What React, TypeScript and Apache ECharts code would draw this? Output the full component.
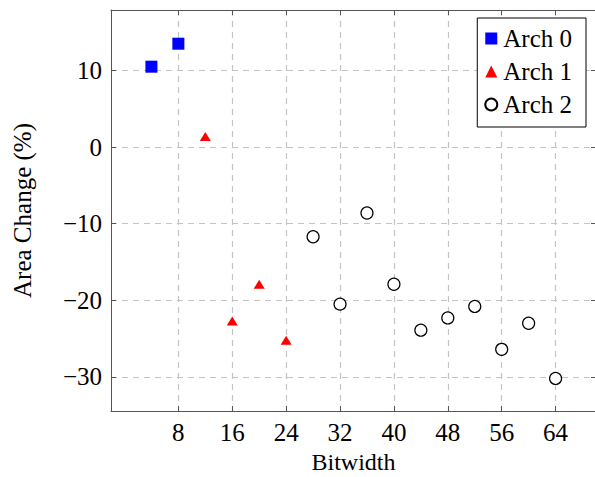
import React, { useEffect, useRef } from "react";
import * as echarts from "echarts";

const arch0X = [4, 8];
const arch0Y = [10.5, 13.5];
const arch1X = [12, 16, 20, 24];
const arch1Y = [1.4, -22.7, -17.9, -25.2];
const arch2X = [28, 32, 36, 40, 44, 48, 52, 56, 60, 64];
const arch2Y = [-11.7, -20.5, -8.6, -17.9, -23.9, -22.3, -20.8, -26.4, -23.0, -30.2];
const xTicks = [8, 16, 24, 32, 40, 48, 56, 64];
const yTicks = [-30, -20, -10, 0, 10];
const seriesNames = ["Arch 0", "Arch 1", "Arch 2"];

const FONT = "Liberation Serif";
const FS = 25;

export default function App() {
  const ref = useRef<HTMLDivElement>(null);
  useEffect(() => {
    if (!ref.current) return;
    const chart = echarts.init(ref.current, null, { renderer: "svg" });
    const zip = (xs: number[], ys: number[]) => xs.map((x, i) => [x, ys[i]]);
    const axisLine = { show: true, onZero: false, lineStyle: { color: "#555", width: 1 } };
    const splitLine = { show: true, lineStyle: { color: "#c4c4c4", type: [6, 5] as any, width: 1.2 } };
    const xBase = {
      type: "value" as const,
      min: -2,
      max: 70,
      axisLine,
      axisTick: { show: true, inside: true, length: 5, customValues: xTicks, lineStyle: { color: "#555" } },
    };
    const yBase = {
      type: "value" as const,
      min: -34.45,
      max: 17.9,
      axisLine,
      axisTick: { show: true, inside: true, length: 5, customValues: yTicks, lineStyle: { color: "#555" } },
    };
    const minus = (v: number) => String(v).replace("-", "\u2212");
    chart.setOption({
      animation: false,
      backgroundColor: "#fff",
      grid: {
        left: 111,
        top: 10,
        width: 485,
        height: 401,
        containLabel: false,
        outerBoundsMode: "none",
      },
      xAxis: [
        {
          ...xBase,
          position: "bottom",
          name: "Bitwidth",
          nameLocation: "middle",
          nameGap: 41,
          nameTextStyle: { fontFamily: FONT, fontSize: 24, lineHeight: 20, color: "#000" },
          axisLabel: { customValues: xTicks, fontFamily: FONT, fontSize: FS, color: "#000", margin: 9 },
          splitLine,
        },
        {
          ...xBase,
          position: "top",
          axisLabel: { show: false },
          splitLine: { show: false },
        },
      ],
      yAxis: [
        {
          ...yBase,
          position: "left",
          name: "Area Change (%)",
          nameLocation: "middle",
          nameGap: 76,
          nameTextStyle: { fontFamily: FONT, fontSize: FS, color: "#000" },
          axisLabel: {
            customValues: yTicks,
            formatter: minus,
            fontFamily: FONT,
            fontSize: FS,
            color: "#000",
            margin: 9,
          },
          splitLine,
        },
        {
          ...yBase,
          position: "right",
          axisLabel: { show: false },
          splitLine: { show: false },
        },
      ],
      legend: {
        orient: "vertical",
        right: 9,
        top: 18,
        data: seriesNames,
        backgroundColor: "#fff",
        borderColor: "#000",
        borderWidth: 1,
        borderRadius: 0,
        padding: [8, 14, 10, 7],
        itemGap: 8,
        itemWidth: 12,
        itemHeight: 12,
        textStyle: { fontFamily: FONT, fontSize: FS, lineHeight: 25, color: "#000", padding: [0, 0, 0, 1] },
      },
      series: [
        {
          name: seriesNames[0],
          type: "scatter",
          data: zip(arch0X, arch0Y),
          symbol: "rect",
          symbolSize: 12,
          itemStyle: { color: "#0000ff", opacity: 1 },
        },
        {
          name: seriesNames[1],
          type: "scatter",
          data: zip(arch1X, arch1Y),
          symbol: "triangle",
          symbolSize: [11, 9],
          itemStyle: { color: "#ff0000", opacity: 1 },
        },
        {
          name: seriesNames[2],
          type: "scatter",
          data: zip(arch2X, arch2Y),
          symbol: "circle",
          symbolSize: 12,
          itemStyle: { color: "#fff", borderColor: "#000", borderWidth: 1.2, opacity: 1 },
        },
      ],
    });
    return () => chart.dispose();
  }, []);
  return <div ref={ref} style={{ width: 595, height: 477, position: "absolute", left: 0, top: 0 }} />;
}
